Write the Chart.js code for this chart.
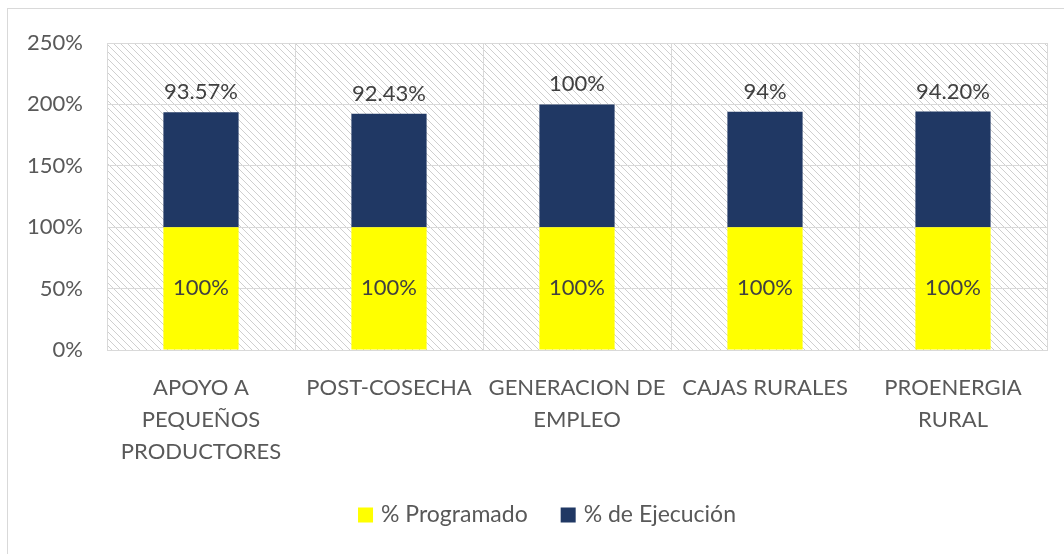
<!DOCTYPE html>
<html>
<head>
<meta charset="utf-8">
<script src="https://cdn.jsdelivr.net/npm/chart.js@4.4.1/dist/chart.umd.min.js"></script>
<style>
  html, body { margin: 0; padding: 0; background: #fff; }
  #wrap { position: relative; width: 1064px; height: 554px; overflow: hidden; }
  #frame { position: absolute; left: 7px; top: 8px; width: 1100px; height: 600px; border: 1px solid #d9d9d9; box-sizing: border-box; }
  canvas { position: absolute; left: 0; top: 0; }
</style>
</head>
<body>
<div id="wrap">
  <div id="frame"></div>
  <canvas id="chart" width="1064" height="554"></canvas>
</div>
<script>
const categories = [
    ['APOYO A', 'PEQUEÑOS', 'PRODUCTORES'],
    'POST-COSECHA',
    ['GENERACION DE', 'EMPLEO'],
    'CAJAS RURALES',
    ['PROENERGIA', 'RURAL']
];
const programado = [100, 100, 100, 100, 100];
const ejecucion = [93.57, 92.43, 100, 94, 94.20];
const programadoLabels = ['100%', '100%', '100%', '100%', '100%'];
const ejecucionLabels = ['93.57%', '92.43%', '100%', '94%', '94.20%'];
const yTicks = [0, 50, 100, 150, 200, 250];

const textColor = '#595959';
const fontFamily = 'Lato, "Open Sans", sans-serif';

// diagonal hatch behind the plot area
function makeHatch(ctx) {
    const c = document.createElement('canvas');
    c.width = 7;
    c.height = 7;
    const p = c.getContext('2d');
    p.fillStyle = '#ffffff';
    p.fillRect(0, 0, 7, 7);
    p.strokeStyle = '#cfcfcf';
    p.lineWidth = 1;
    p.beginPath();
    p.moveTo(-1, -1); p.lineTo(8, 8);
    p.moveTo(-1, 6); p.lineTo(1, 8);
    p.moveTo(6, -1); p.lineTo(8, 1);
    p.stroke();
    return ctx.createPattern(c, 'repeat');
}

const hatchPlugin = {
    id: 'hatch',
    beforeDraw(chart) {
        const { ctx, chartArea } = chart;
        ctx.save();
        ctx.fillStyle = makeHatch(ctx);
        ctx.fillRect(chartArea.left, chartArea.top, chartArea.right - chartArea.left, chartArea.bottom - chartArea.top);
        ctx.restore();
    }
};

const valueLabels = {
    id: 'valueLabels',
    afterDatasetsDraw(chart) {
        const ctx = chart.ctx;
        ctx.save();
        ctx.font = '22px ' + fontFamily;
        ctx.fillStyle = '#404040';
        ctx.textAlign = 'center';
        chart.getDatasetMeta(0).data.forEach((bar, i) => {
            ctx.textBaseline = 'middle';
            ctx.fillText(programadoLabels[i], bar.x, (bar.y + bar.base) / 2);
        });
        chart.getDatasetMeta(1).data.forEach((bar, i) => {
            ctx.textBaseline = 'bottom';
            ctx.fillText(ejecucionLabels[i], bar.x, bar.y - 9);
        });
        ctx.restore();
    }
};

// legend drawn by hand so it can sit a bit right of centre like the original
const bottomLegend = {
    id: 'bottomLegend',
    afterDraw(chart) {
        const ctx = chart.ctx;
        const box = 15, gapText = 8, gapItem = 33, cy = 515, cx = 547;
        ctx.save();
        ctx.font = '23px ' + fontFamily;
        const items = chart.data.datasets.map(ds => ({
            text: ds.label, color: ds.backgroundColor, w: ctx.measureText(ds.label).width
        }));
        const total = items.reduce((s, it) => s + box + gapText + it.w, 0) + gapItem * (items.length - 1);
        let x = cx - total / 2;
        ctx.textBaseline = 'middle';
        ctx.textAlign = 'left';
        items.forEach(it => {
            ctx.fillStyle = it.color;
            ctx.fillRect(x, cy - box / 2, box, box);
            ctx.fillStyle = textColor;
            ctx.fillText(it.text, x + box + gapText, cy);
            x += box + gapText + it.w + gapItem;
        });
        ctx.restore();
    }
};

new Chart(document.getElementById('chart'), {
    type: 'bar',
    data: {
        labels: categories,
        datasets: [{
            label: '% Programado',
            data: programado,
            backgroundColor: '#ffff00',
            barPercentage: 0.4,
            categoryPercentage: 1
        }, {
            label: '% de Ejecución',
            data: ejecucion,
            backgroundColor: '#203864',
            barPercentage: 0.4,
            categoryPercentage: 1
        }]
    },
    options: {
        responsive: false,
        animation: false,
        layout: { padding: { top: 43, right: 17, bottom: 82, left: 0 } },
        plugins: {
            legend: { display: false },
            tooltip: { enabled: false }
        },
        scales: {
            x: {
                stacked: true,
                grid: { color: '#d9d9d9', offset: true, drawTicks: false },
                border: { color: '#d9d9d9' },
                ticks: {
                    color: textColor,
                    padding: 22,
                    maxRotation: 0,
                    autoSkip: false,
                    font: { family: fontFamily, size: 22, lineHeight: 1.45 }
                },
                afterFit(scale) { scale.height = 122; }
            },
            y: {
                stacked: true,
                min: 0,
                max: 250,
                afterBuildTicks(scale) { scale.ticks = yTicks.map(v => ({ value: v })); },
                grid: { color: '#d9d9d9', drawTicks: false },
                border: { color: '#d9d9d9' },
                ticks: {
                    color: textColor,
                    padding: 24,
                    font: { family: fontFamily, size: 22 },
                    callback: v => v + '%'
                },
                afterFit(scale) { scale.width = 107; }
            }
        }
    },
    plugins: [hatchPlugin, valueLabels, bottomLegend]
});
</script>
</body>
</html>
